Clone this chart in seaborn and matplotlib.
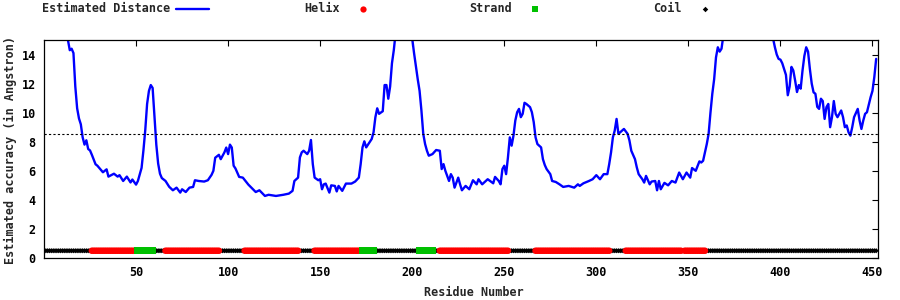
import matplotlib
matplotlib.use("Agg")
import matplotlib.pyplot as plt
from matplotlib.lines import Line2D
import seaborn as sns
import numpy as np
import pandas as pd

# ---- data ----
residues = [1, 6, 11, 13, 14, 15, 16, 17, 18, 19, 20, 21, 22, 23, 24, 25, 26, 28, 29, 30,
            32, 34, 35, 38, 40, 41, 43, 45, 47, 48, 50, 51, 52, 53, 54, 55, 56, 57, 58, 59,
            60, 61, 62, 63, 64, 66, 68, 70, 72, 74, 75, 77, 79, 81, 82, 84, 87, 89, 91, 92,
            93, 95, 96, 98, 99, 100, 101, 102, 103, 104, 106, 108, 111, 113, 115, 117, 120, 122, 126, 130,
            133, 135, 136, 138, 139, 140, 141, 143, 144, 145, 146, 147, 149, 150, 151, 152, 153, 155, 156, 158,
            159, 160, 162, 164, 167, 169, 171, 172, 173, 174, 175, 176, 178, 179, 180, 181, 182, 184, 185, 186,
            187, 188, 189, 190, 191, 193, 196, 199, 200, 201, 202, 203, 204, 205, 206, 207, 208, 209, 211, 213,
            215, 216, 217, 218, 220, 221, 222, 223, 225, 226, 227, 229, 231, 233, 235, 236, 238, 241, 244, 245,
            247, 248, 249, 250, 251, 252, 253, 254, 255, 256, 257, 258, 259, 260, 261, 262, 264, 265, 266, 267,
            268, 270, 271, 272, 273, 275, 276, 278, 280, 282, 285, 288, 290, 291, 293, 296, 298, 300, 302, 304,
            306, 307, 308, 309, 310, 311, 312, 314, 315, 317, 318, 319, 321, 322, 323, 325, 326, 327, 329, 330,
            332, 333, 334, 335, 337, 339, 341, 343, 345, 347, 349, 351, 352, 354, 356, 357, 358, 359, 360, 361,
            362, 363, 364, 365, 366, 367, 368, 369, 373, 380, 388, 394, 396, 397, 398, 399, 400, 401, 403, 404,
            405, 406, 407, 408, 409, 410, 411, 412, 413, 414, 415, 416, 417, 418, 419, 420, 421, 422, 423, 424,
            425, 426, 427, 428, 429, 430, 431, 433, 434, 435, 436, 437, 438, 439, 440, 442, 443, 444, 445, 446,
            447, 449, 450, 451, 452]
distance = [19.5, 17.5, 15.8, 15.0, 14.3, 14.4, 14.1, 11.8, 10.3, 9.6, 9.2, 8.3, 7.8, 8.1, 7.5, 7.4, 7.1, 6.45, 6.35, 6.2,
            5.9, 6.1, 5.6, 5.8, 5.6, 5.7, 5.3, 5.6, 5.2, 5.4, 5.05, 5.3, 5.75, 6.2, 7.4, 8.8, 10.6, 11.5, 11.9, 11.7,
            9.8, 7.8, 6.5, 5.8, 5.5, 5.3, 4.9, 4.66, 4.84, 4.5, 4.73, 4.54, 4.84, 4.89, 5.35, 5.3, 5.26, 5.35, 5.72, 6.0,
            6.9, 7.1, 6.8, 7.27, 7.6, 7.15, 7.8, 7.6, 6.35, 6.16, 5.58, 5.53, 5.05, 4.8, 4.54, 4.66, 4.27, 4.35, 4.27, 4.35,
            4.43, 4.62, 5.3, 5.53, 6.92, 7.27, 7.38, 7.15, 7.38, 8.12, 6.46, 5.53, 5.35, 5.42, 4.73, 5.07, 5.12, 4.5, 5.0, 4.96,
            4.58, 4.96, 4.62, 5.12, 5.12, 5.26, 5.53, 6.46, 7.61, 8.03, 7.61, 7.8, 8.19, 8.65, 9.69, 10.3, 9.92, 10.1, 11.9, 11.9,
            10.96, 11.8, 13.4, 14.3, 15.5, 17.0, 17.5, 16.0, 15.1, 14.1, 13.2, 12.3, 11.5, 10.15, 8.54, 7.84, 7.38, 7.04, 7.15, 7.43,
            7.38, 6.12, 6.46, 6.0, 5.3, 5.77, 5.53, 4.84, 5.53, 5.07, 4.66, 4.96, 4.73, 5.35, 5.07, 5.42, 5.07, 5.42, 5.14, 5.58,
            5.3, 5.07, 6.12, 6.35, 5.77, 6.92, 8.3, 7.73, 8.42, 9.46, 10.03, 10.26, 9.69, 9.92, 10.68, 10.6, 10.38, 10.03, 9.35, 8.3,
            7.84, 7.61, 6.8, 6.4, 6.12, 5.77, 5.3, 5.23, 5.07, 4.89, 4.96, 4.84, 5.07, 4.96, 5.14, 5.3, 5.42, 5.7, 5.42, 5.77,
            5.77, 6.46, 7.27, 8.3, 8.77, 9.57, 8.54, 8.77, 8.88, 8.54, 8.08, 7.38, 6.8, 6.23, 5.77, 5.42, 5.19, 5.65, 5.07, 5.26,
            5.3, 4.66, 5.3, 4.73, 5.17, 5.0, 5.3, 5.19, 5.88, 5.42, 5.88, 5.53, 6.19, 6.0, 6.65, 6.57, 6.69, 7.27, 7.84, 8.54,
            10.0, 11.3, 12.3, 13.8, 14.5, 14.2, 14.4, 15.3, 16.8, 18.0, 17.0, 15.6, 15.1, 14.5, 14.0, 13.7, 13.65, 13.4, 12.6, 11.2,
            11.8, 13.15, 12.9, 12.2, 11.42, 11.9, 11.65, 12.9, 13.9, 14.5, 14.2, 13.0, 12.0, 11.4, 11.3, 10.4, 10.26, 10.96, 10.8, 9.57,
            10.38, 10.6, 9.0, 9.69, 10.8, 9.92, 9.69, 10.15, 9.69, 9.0, 9.12, 8.65, 8.42, 9.0, 9.69, 10.26, 9.46, 8.88, 9.46, 9.92,
            10.03, 11.07, 11.5, 12.45, 13.7]

# secondary-structure segments (start residue, end residue, type)
ss_start = [1, 26, 51, 60, 66, 96, 109, 139, 147, 173, 180, 204, 212, 215, 253, 267, 308, 316, 347, 348, 360]
ss_end   = [25, 50, 59, 65, 95, 108, 138, 146, 172, 179, 203, 211, 214, 252, 266, 307, 315, 346, 347, 359, 452]
ss_type  = ["Coil", "Helix", "Strand", "Coil", "Helix", "Coil", "Helix", "Coil", "Helix", "Strand", "Coil",
            "Strand", "Coil", "Helix", "Coil", "Helix", "Coil", "Helix", "Coil", "Helix", "Coil"]
ss_level = 0.5
threshold = 8.5

x_ticks = [50, 100, 150, 200, 250, 300, 350, 400, 450]
y_ticks = [0, 2, 4, 6, 8, 10, 12, 14]

# ---- build tables ----
dist_df = pd.DataFrame({"residue": residues, "distance": distance})
rows = []
for s, e, t in zip(ss_start, ss_end, ss_type):
    for r in range(s, e + 1):
        rows.append((r, ss_level, t))
ss_df = pd.DataFrame(rows, columns=["residue", "level", "type"])

# ---- styling ----
sns.set_style("white")
FONT = ["DejaVu Sans Mono", "DejaVu Sans"]
plt.rcParams["font.family"] = FONT
plt.rcParams["font.weight"] = "bold"
plt.rcParams["font.size"] = 8.5
plt.rcParams["lines.scale_dashes"] = False

fig = plt.figure(figsize=(9, 3), dpi=100)
ax = fig.add_axes([44 / 900, 1 - 258 / 300, 834 / 900, 218 / 300])

sns.lineplot(data=dist_df, x="residue", y="distance", ax=ax, color="#0000ff",
             linewidth=1.7, sort=True, estimator=None)
ax.axhline(threshold, color="black", linewidth=0.8, linestyle=(0, (1.6, 1.6)))

styles = {
    "Coil": dict(marker="D", s=7, color="black"),
    "Helix": dict(marker="o", s=22, color="#ff0000"),
    "Strand": dict(marker="s", s=28, color="#00c000"),
}
for t in ["Coil", "Helix", "Strand"]:
    sub = ss_df[ss_df["type"] == t]
    st = styles[t]
    sns.scatterplot(data=sub, x="residue", y="level", ax=ax, marker=st["marker"],
                    s=st["s"], color=st["color"], edgecolor="none", linewidth=0,
                    zorder=3, legend=False)

ax.set_xlim(0, 453)
ax.set_ylim(0, 15)
ax.set_xticks(x_ticks)
ax.set_yticks(y_ticks)
ax.tick_params(direction="in", length=4, width=0.8, top=True, right=True,
               labelsize=8.5, pad=6, colors="black")
for lab in ax.get_xticklabels() + ax.get_yticklabels():
    lab.set_fontweight("bold")
for sp in ax.spines.values():
    sp.set_visible(True)
    sp.set_color("black")
    sp.set_linewidth(0.9)

ax.set_xlabel("Residue Number", fontsize=8.5, fontweight="bold")
ax.set_ylabel("Estimated accuracy (in Angstron)", fontsize=8.5, fontweight="bold")
ax.xaxis.set_label_coords((474 - 44) / 834, (258 - 286) / 218)
ax.yaxis.set_label_coords((17 - 44) / 834, 0.495)

# ---- key along the top ----
ky = 1 - 8.5 / 300
def fx(px):
    return px / 900

fig.text(fx(170), ky, "Estimated Distance", ha="right", va="center", fontsize=8.5, fontweight="bold")
fig.add_artist(Line2D([fx(176), fx(209)], [ky, ky], color="#0000ff", linewidth=1.7,
                      transform=fig.transFigure))
fig.text(fx(340), ky, "Helix", ha="right", va="center", fontsize=8.5, fontweight="bold")
fig.add_artist(Line2D([fx(363)], [ky], marker="o", markersize=4.5, color="#ff0000",
                      markeredgewidth=0, linestyle="none", transform=fig.transFigure))
fig.text(fx(512), ky, "Strand", ha="right", va="center", fontsize=8.5, fontweight="bold")
fig.add_artist(Line2D([fx(535)], [ky], marker="s", markersize=5, color="#00c000",
                      markeredgewidth=0, linestyle="none", transform=fig.transFigure))
fig.text(fx(682), ky, "Coil", ha="right", va="center", fontsize=8.5, fontweight="bold")
fig.add_artist(Line2D([fx(705)], [ky], marker="D", markersize=2.8, color="black",
                      markeredgewidth=0, linestyle="none", transform=fig.transFigure))

fig.savefig("out.png", dpi=100, facecolor="white")
